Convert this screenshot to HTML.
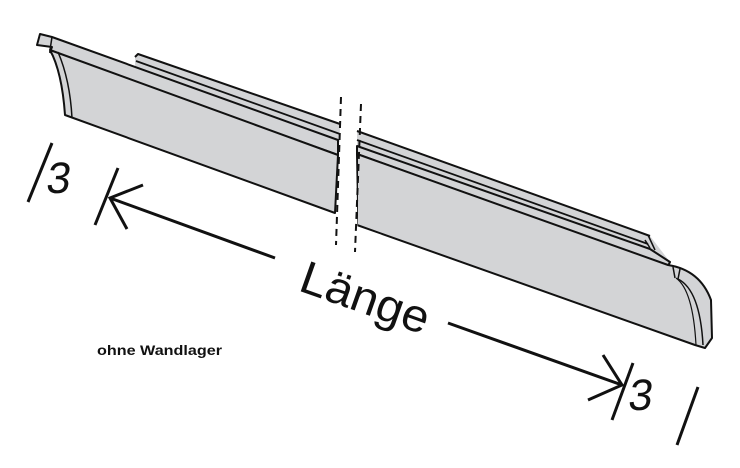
<!DOCTYPE html>
<html><head><meta charset="utf-8"><style>
html,body{margin:0;padding:0;background:#fff;}
svg{display:block;}
</style></head><body>
<svg width="740" height="468" viewBox="0 0 740 468" xmlns="http://www.w3.org/2000/svg">
<g stroke="#111" stroke-width="2" stroke-linejoin="round" fill="#d3d4d6">
  <!-- rail / top surface fill -->
  <polygon points="135,57 138,54 340,124 340,142 135,68" stroke="none"/>
  <polygon points="357,130 650,236 670,262 357,148" stroke="none"/>
  <polyline points="135,57 138,54 340,124" fill="none"/>
  <line x1="136" y1="61" x2="340" y2="134" stroke-width="1.8"/>
  <line x1="357" y1="131" x2="650" y2="236"/>
  <line x1="357" y1="140" x2="648" y2="244" stroke-width="1.8"/>
  <!-- left board -->
  <polygon points="37,45 40,34 52,37 338,140 338,155 50,52 52,47"/>
  <path d="M50,50 L338,155 L335,213 L65,115 Q62,72 50,50 Z"/>
  <path d="M58,52 Q70,80 72,118" fill="none" stroke-width="1.5"/>
  <line x1="52" y1="37" x2="50" y2="50" stroke-width="1.5"/>
  <!-- right board -->
  <polygon points="357,146 650,249 670,262 668,266 357,154"/>
  <path d="M357,154 L668,265 Q700,270 711,300 L712,338 L705,348 L695,345 L357,225 Z"/>
  <path d="M673,267 L675,278" fill="none" stroke-width="1.5"/>
  <path d="M680,269 L678,279 Q700,290 703,345" fill="none" stroke-width="1.5"/>
  <path d="M676,278 Q693,290 696,345" fill="none" stroke-width="1.2"/>
  <path d="M648,235 L655,250 M645,240 L650,248" fill="none" stroke-width="1.5"/>
</g>
<!-- white gap between dashed lines -->
<polygon points="340,100 355,104 358,255 339,250" fill="#fff"/>
<g stroke="#111" stroke-width="2" stroke-dasharray="7,5" fill="none">
  <line x1="341" y1="97" x2="336" y2="245"/>
  <line x1="361" y1="104" x2="355" y2="252"/>
</g>
<!-- dimension -->
<g stroke="#111" stroke-width="3" fill="none" stroke-linecap="butt">
  <line x1="28" y1="202" x2="52" y2="143"/>
  <line x1="95" y1="225" x2="118" y2="168"/>
  <line x1="110" y1="198" x2="275" y2="258"/>
  <polyline points="143,185 110,198 127,229"/>
  <line x1="448" y1="323" x2="622" y2="385"/>
  <polyline points="603,355 622,385 588,400"/>
  <line x1="633" y1="363" x2="612" y2="420"/>
  <line x1="698" y1="387" x2="677" y2="445"/>
</g>
<g fill="#111" font-family="Liberation Sans, sans-serif">
  <text x="0" y="0" font-size="44" textLength="24" lengthAdjust="spacingAndGlyphs" transform="translate(45,193) skewX(-8)">3</text>
  <text x="0" y="0" font-size="44" textLength="24" lengthAdjust="spacingAndGlyphs" transform="translate(627,410) skewX(-8)">3</text>
  <text x="0" y="0" font-size="46" textLength="134" lengthAdjust="spacingAndGlyphs" transform="translate(297,290) rotate(19.5)">Länge</text>
  <text x="97" y="355" font-size="14" font-weight="bold" textLength="125" lengthAdjust="spacingAndGlyphs">ohne Wandlager</text>
</g>
</svg>
</body></html>
